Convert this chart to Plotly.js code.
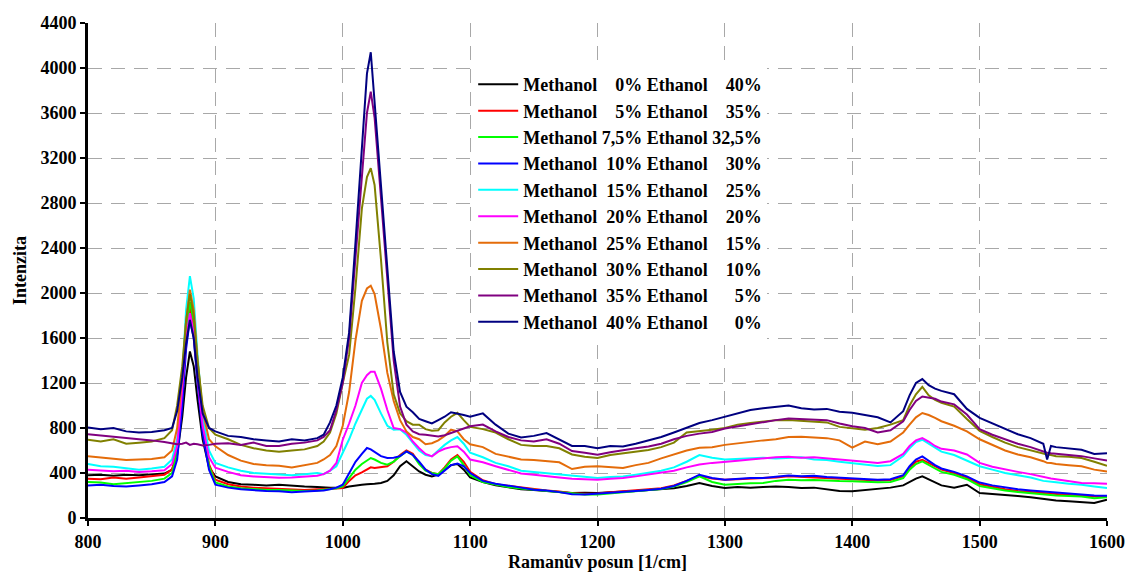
<!DOCTYPE html>
<html>
<head>
<meta charset="utf-8">
<script src="https://cdn.plot.ly/plotly-3.0.1.min.js"></script>
<style>html,body{margin:0;padding:0;background:#fff;}#chart{width:1130px;height:572px;}</style>
</head>
<body>
<div id="chart"></div>
<script>
// Raman shift [1/cm]
const ramanShift = [
  800,810,820,830,840,850,860,
  866,870,874,877,880,883,886,890,895,900,
  910,920,930,940,950,960,970,980,
  985,990,995,1000,1005,1010,1015,1019,1022,1025,1030,1035,1040,1045,1050,1055,1060,1065,1070,1075,1080,1085,1090,1095,1100,
  1110,1120,1130,1140,1150,1160,1170,1180,1190,1200,1210,1220,1230,1240,1250,1260,1270,1280,1290,1300,1310,1320,1330,1340,1350,1360,1370,1380,1390,1400,1410,1420,1430,1440,
  1445,1450,1455,1460,1465,1470,
  1480,1490,1500,1510,1520,1530,1540,1550,
  1553,1556,
  1560,1570,1580,1590,1600
];

const methanolPct = ['0','5','7,5','10','15','20','25','30','35','40'];
const ethanolPct  = ['40','35','32,5','30','25','20','15','10','5','0'];
const seriesColors = ['#000000','#ff0000','#00ff00','#0000ff','#00ffff','#ff00ff','#e46c0a','#808000','#800080','#000080'];

const m0e40 = [
  380,385,375,385,380,390,395,
  430,560,900,1250,1480,1350,1050,700,450,370,
  320,300,295,290,296,285,280,275,
  270,268,270,267,280,290,296,300,300,305,311,330,380,460,505,460,414,385,370,385,430,470,480,430,360,
  320,290,275,255,250,240,230,222,225,222,230,232,240,250,255,265,285,311,285,267,275,270,275,281,275,266,270,255,240,237,250,262,270,290,
  320,350,370,345,320,290,
  270,296,222,215,205,195,185,170,
  165,160,
  155,148,140,133,163
];
const m5e35 = [
  350,345,360,350,360,370,385,
  430,600,1100,1600,1870,1700,1300,800,480,340,
  300,280,270,265,260,255,250,255,
  255,260,262,267,330,380,405,430,450,444,450,459,500,560,600,570,490,430,400,390,450,520,560,500,410,
  335,300,285,270,255,245,235,220,215,218,228,235,245,255,265,290,330,375,350,340,345,350,352,360,372,366,365,355,352,346,340,334,338,370,
  450,500,518,490,455,430,
  400,360,300,275,255,240,230,222,
  220,218,
  212,205,198,190,186
];
const m75e325 = [
  320,315,300,310,315,330,350,
  400,580,1100,1650,1920,1750,1300,800,460,316,
  280,265,255,250,248,245,240,245,
  250,258,265,281,360,430,480,510,533,520,490,474,500,550,592,560,480,420,400,390,440,510,548,470,380,
  320,295,275,262,250,240,228,215,208,210,220,228,238,248,258,280,320,370,320,296,305,310,312,330,340,335,338,330,328,326,322,317,320,355,
  430,480,503,475,440,410,
  385,345,285,265,245,232,220,207,
  205,203,
  200,195,192,175,185
];
const m10e30 = [
  290,295,285,280,290,300,320,
  370,520,1000,1500,1770,1600,1200,750,430,296,
  270,255,245,240,237,230,235,240,
  245,255,270,296,400,500,570,622,610,585,550,533,535,550,592,560,500,430,390,375,420,470,485,460,400,
  330,305,290,270,252,245,230,212,210,216,225,230,240,250,260,285,330,385,355,340,350,355,355,365,378,372,376,365,360,355,350,340,345,380,
  460,520,548,510,470,440,
  410,370,315,290,270,255,245,237,
  235,232,
  225,215,207,200,198
];
const m15e25 = [
  480,460,455,445,430,440,455,
  520,700,1250,1850,2150,1950,1450,900,600,490,
  450,420,400,395,385,380,390,400,
  390,420,460,578,700,840,960,1060,1085,1050,930,820,785,790,740,670,600,560,550,600,650,690,720,660,580,
  540,490,460,420,410,400,385,375,370,355,365,370,385,400,420,450,500,560,535,520,525,530,535,530,535,540,520,515,500,488,480,462,470,550,
  620,675,696,660,620,590,
  560,510,460,430,400,380,360,330,
  325,322,
  318,305,296,280,266
];
const m20e20 = [
  430,425,415,420,410,415,425,
  480,640,1150,1600,1820,1650,1250,820,540,447,
  410,380,370,365,358,360,365,375,
  390,420,489,696,840,1000,1200,1270,1300,1300,1150,960,800,790,760,680,620,570,548,590,615,630,637,590,520,
  495,460,430,395,385,370,360,350,345,340,350,355,370,385,400,420,450,475,490,503,510,520,533,540,545,535,540,530,520,515,500,488,505,570,
  640,690,711,680,640,615,
  600,565,490,455,430,410,390,365,
  355,352,
  345,330,311,308,305
];
const m25e15 = [
  550,540,530,515,520,525,540,
  600,800,1250,1750,2030,1850,1400,950,700,637,
  560,510,480,470,465,450,470,490,
  520,560,640,820,1120,1580,1930,2040,2065,1990,1680,1290,1040,870,770,720,700,655,665,690,730,785,770,700,655,
  630,570,545,520,515,505,495,435,455,460,450,445,470,490,530,565,600,625,630,650,665,680,690,700,720,722,718,710,690,625,680,655,680,760,
  830,895,933,915,890,860,
  820,770,700,650,600,565,540,505,
  490,488,
  480,470,459,430,414
];
const m30e10 = [
  695,680,700,660,670,680,710,
  780,1000,1350,1750,1990,1800,1400,1000,800,740,
  700,650,620,600,590,600,610,640,
  680,760,930,1200,1450,2050,2750,3030,3110,2960,2300,1560,1100,930,860,830,830,790,775,780,850,900,935,870,810,
  790,760,700,650,640,640,620,565,545,533,560,575,590,605,630,670,760,770,785,800,830,845,855,870,872,865,860,850,810,795,785,800,830,870,
  1000,1100,1165,1090,1050,1025,
  990,880,775,720,670,630,600,570,
  565,560,
  550,545,533,500,465
];
const m35e5 = [
  745,735,720,715,700,690,675,
  665,655,660,670,650,660,655,645,650,660,
  665,650,670,640,640,660,670,690,
  720,780,960,1200,1600,2300,3000,3600,3790,3560,2850,2100,1400,990,830,770,745,740,730,725,735,755,770,790,815,
  830,770,720,690,680,700,660,595,580,563,585,605,620,635,660,700,730,750,765,795,815,835,850,870,885,880,875,870,840,815,800,760,780,860,
  960,1040,1080,1070,1060,1035,
  1010,920,790,740,700,660,630,590,
  580,575,
  570,560,550,530,510
];
const m40e0 = [
  805,790,800,770,760,765,780,
  800,950,1250,1550,1760,1600,1250,930,800,770,
  730,720,700,690,680,700,690,710,
  740,850,1000,1250,1650,2450,3250,3950,4140,3700,2900,2150,1480,1120,990,940,880,860,840,870,900,940,930,915,900,
  930,830,750,715,730,755,700,640,640,620,640,635,660,690,720,760,800,845,870,900,930,960,975,990,1000,975,965,970,945,935,918,895,850,950,
  1090,1200,1235,1180,1150,1130,
  1100,970,890,840,790,745,710,660,
  520,640,
  630,620,607,570,575
];

const seriesValues = [m0e40, m5e35, m75e325, m10e30, m15e25, m20e20, m25e15, m30e10, m35e5, m40e0];

// right-align percentage columns using figure space (digit width) and punctuation space (comma width)
function pad(s, maxUnits) {
  let units = 0;
  for (const ch of s) units += (ch === ',') ? 1 : 2;
  let diff = maxUnits - units, out = '';
  while (diff >= 2) { out += '\u2007'; diff -= 2; }
  if (diff === 1) out += '\u2008';
  return out + s;
}

const FONT = 'Liberation Serif, Times New Roman, serif';

const traces = seriesValues.map((vals, i) => ({
  type: 'scatter',
  mode: 'lines',
  x: ramanShift,
  y: vals,
  name: 'Methanol ' + pad(methanolPct[i], 5) + '% Ethanol ' + pad(ethanolPct[i], 7) + '%',
  line: {color: seriesColors[i], width: 2}
}));

const axisCommon = {
  showline: true, linecolor: '#000', linewidth: 3,
  ticks: 'outside', ticklen: 5, tickwidth: 2, tickcolor: '#000',
  showgrid: true, gridcolor: '#a8a8a8', gridwidth: 1, griddash: '14px,9px',
  zeroline: false, mirror: false,
  tickfont: {family: FONT, size: 18, weight: 'bold', color: '#000'}
};

const layout = {
  width: 1130, height: 572,
  margin: {l: 88, r: 23, t: 23, b: 54},
  paper_bgcolor: '#fff', plot_bgcolor: '#fff',
  showlegend: true,
  legend: {
    x: 0.378, y: 0.913, xanchor: 'left', yanchor: 'top',
    bgcolor: '#fff', borderwidth: 0, itemwidth: 40,
    font: {family: FONT, size: 18, weight: 'bold', color: '#000'},
    tracegroupgap: 0
  },
  xaxis: Object.assign({}, axisCommon, {
    range: [800, 1600], dtick: 100, tick0: 800,
    title: {text: 'Ramanův posun [1/cm]', font: {family: FONT, size: 18, weight: 'bold', color: '#000'}, standoff: 4}
  }),
  yaxis: Object.assign({}, axisCommon, {
    range: [0, 4400], dtick: 400, tick0: 0,
    title: {text: 'Intenzita', font: {family: FONT, size: 18, weight: 'bold', color: '#000'}, standoff: 10}
  })
};

Plotly.newPlot('chart', traces, layout, {displayModeBar: false, staticPlot: true});
</script>
</body>
</html>
